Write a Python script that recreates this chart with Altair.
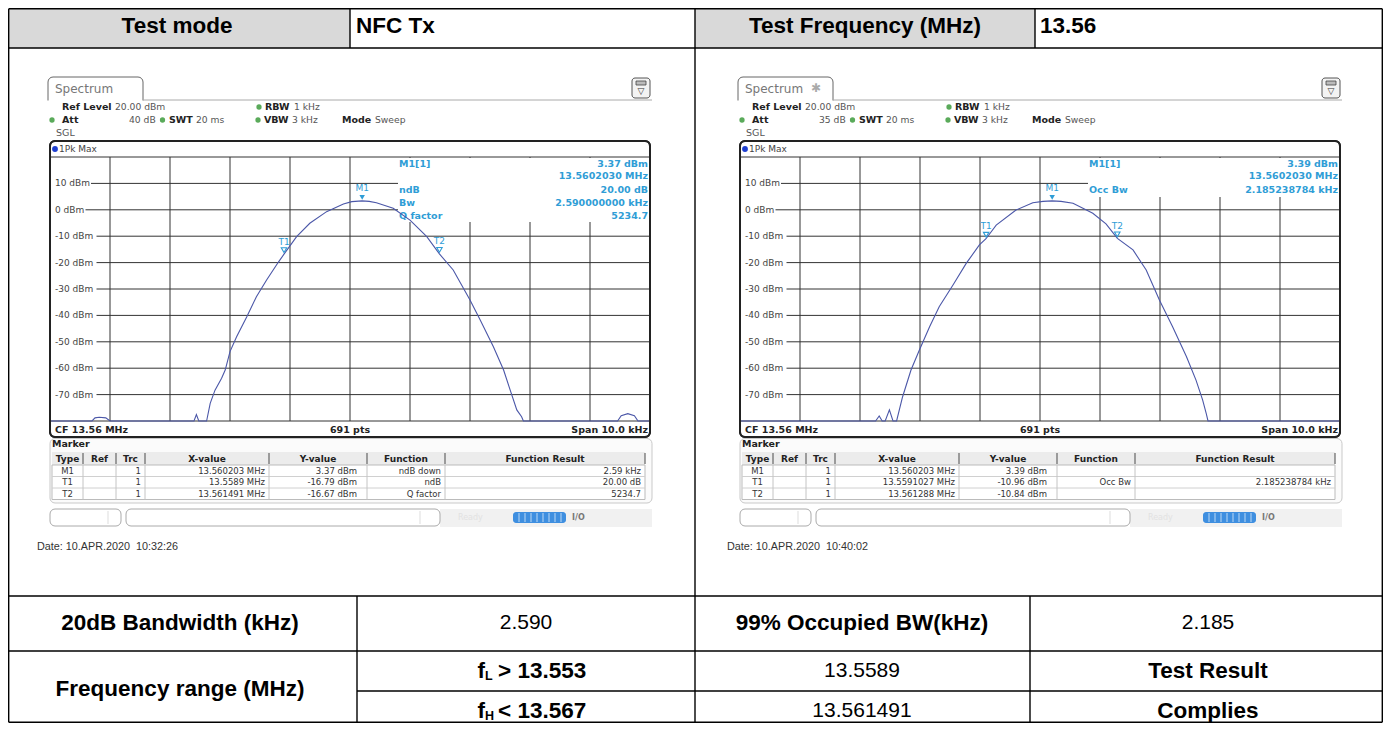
import altair as alt
import pandas as pd

W, H = 1375, 715
OFF = 8
UI = "DejaVu Sans"
TB = "Liberation Sans"
GRID = "#333333"
TRACE = "#4b57a8"
MK = "#2f9dd6"

# ---------------- data ----------------
header_texts = ["Test mode", "NFC Tx", "Test Frequency (MHz)", "13.56"]
result_labels = ["20dB Bandwidth (kHz)", "99% Occupied BW(kHz)", "Frequency range (MHz)", "Test Result"]
result_values = ["2.590", "2.185", "13.5589", "13.561491", "Complies"]
limit_parts = ["f", "L", "> 13.553", "f", "H", "< 13.567"]

freq_ticks_khz = [-5, -4, -3, -2, -1, 0, 1, 2, 3, 4, 5]
level_ticks_dbm = [20, 10, 0, -10, -20, -30, -40, -50, -60, -70, -80]

left_trace_khz = [-5.0, -4.3, -4.25, -4.18, -4.07, -4.0, -2.6, -2.56, -2.52, -2.39, -2.33, -2.25,
                  -2.14, -2.08, -2.0, -1.89, -1.72, -1.56, -1.39, -1.19, -1.1, -0.89, -0.67, -0.39,
                  -0.11, 0.03, 0.2, 0.32, 0.44, 0.72, 1.0, 1.28, 1.49, 1.72, 2.0, 2.17, 2.39, 2.56,
                  2.67, 2.78, 2.86, 2.89, 4.46, 4.52, 4.63, 4.74, 4.8, 5.0]
left_trace_dbm = [-80, -80, -78.8, -78.6, -78.8, -80, -80, -77.6, -80, -80, -73.3, -68.3,
                  -63.8, -60.7, -53.7, -48.1, -40.5, -32.9, -26.6, -19.7, -16.8, -10.2, -5.1, -0.7,
                  2.2, 3.1, 3.37, 3.2, 2.7, 0.6, -3.9, -10.2, -16.7, -22.8, -34.2, -41.7, -51.9, -60.7,
                  -68.3, -75.8, -78.4, -80, -80, -78.0, -77.2, -78.0, -80, -80]

right_trace_khz = [-5.0, -2.74, -2.68, -2.63, -2.58, -2.51, -2.45, -2.39, -2.29, -2.15, -2.01, -1.84,
                   -1.68, -1.45, -1.23, -1.01, -0.9, -0.73, -0.4, -0.12, 0.05, 0.2, 0.35, 0.55, 0.88,
                   1.1, 1.29, 1.55, 1.77, 1.99, 2.21, 2.44, 2.6, 2.71, 2.77, 2.8, 5.0]
right_trace_dbm = [-80, -80, -78.1, -80, -80, -75.8, -80, -80, -70.8, -60.7, -53.1, -44.3,
                   -36.7, -28.5, -20.3, -13.3, -10.96, -5.8, -0.1, 2.7, 3.2, 3.39, 3.2, 2.5, -1.3,
                   -5.3, -10.84, -15.2, -22.8, -34.2, -44.3, -55.6, -64.5, -72.0, -77.1, -80, -80]

marker_names = ["M1", "T1", "T2"]
left_marker_mhz = [13.560203, 13.5589, 13.561491]
left_marker_dbm = [3.37, -16.79, -16.67]
right_marker_mhz = [13.560203, 13.5591027, 13.561288]
right_marker_dbm = [3.39, -10.96, -10.84]

settings_keys = ["Ref Level", "RBW", "Att", "SWT", "VBW", "Mode"]
left_settings_vals = ["20.00 dBm", "1 kHz", "40 dB", "20 ms", "3 kHz", "Sweep"]
right_settings_vals = ["20.00 dBm", "1 kHz", "35 dB", "20 ms", "3 kHz", "Sweep"]

left_info_keys = ["M1[1]", "", "ndB", "Bw", "Q factor"]
left_info_vals = ["3.37 dBm", "13.5602030 MHz", "20.00 dB", "2.590000000 kHz", "5234.7"]
right_info_keys = ["M1[1]", "", "Occ Bw"]
right_info_vals = ["3.39 dBm", "13.5602030 MHz", "2.185238784 kHz"]

table_head = ["Type", "Ref", "Trc", "X-value", "Y-value", "Function", "Function Result"]
left_rows = [["M1", "1", "13.560203 MHz", "3.37 dBm", "ndB down", "2.59 kHz"],
             ["T1", "1", "13.5589 MHz", "-16.79 dBm", "ndB", "20.00 dB"],
             ["T2", "1", "13.561491 MHz", "-16.67 dBm", "Q factor", "5234.7"]]
right_rows = [["M1", "1", "13.560203 MHz", "3.39 dBm", "", ""],
              ["T1", "1", "13.5591027 MHz", "-10.96 dBm", "Occ Bw", "2.185238784 kHz"],
              ["T2", "1", "13.561288 MHz", "-10.84 dBm", "", ""]]
left_date = "Date: 10.APR.2020\u00a0 10:32:26"
right_date = "Date: 10.APR.2020\u00a0 10:40:02"

# ---------------- helpers (page coordinates) ----------------
XS = alt.Scale(domain=[0, W], range=[0, W], nice=False, zero=False)
YS = alt.Scale(domain=[0, H], range=[0, H], nice=False, zero=False)


def _xy():
    return dict(x=alt.X("x:Q", scale=XS, axis=None), y=alt.Y("y:Q", scale=YS, axis=None))


def ptext(pos, texts, size, weight="normal", color="#222", align="left", font=UI):
    df = pd.DataFrame({"x": [p[0] - OFF for p in pos], "y": [p[1] - OFF for p in pos], "t": list(texts)})
    return alt.Chart(df).mark_text(fontSize=size, fontWeight=weight, color=color, align=align,
                                   baseline="middle", font=font).encode(**_xy(), text="t:N")


def prect(boxes, **kw):
    df = pd.DataFrame(boxes, columns=["x", "y", "x2", "y2"]) - OFF
    return alt.Chart(df).mark_rect(**kw).encode(**_xy(), x2="x2:Q", y2="y2:Q")


def prule(lines, color="#000", width=1.0):
    df = pd.DataFrame(lines, columns=["x", "y", "x2", "y2"]) - OFF
    return alt.Chart(df).mark_rule(color=color, strokeWidth=width).encode(**_xy(), x2="x2:Q", y2="y2:Q")


def pdot(pos, color, size):
    df = pd.DataFrame({"x": [p[0] - OFF for p in pos], "y": [p[1] - OFF for p in pos]})
    return alt.Chart(df).mark_circle(color=color, size=size, opacity=1).encode(**_xy())


# ---------------- one analyzer screenshot ----------------
def panel(dx, star, settings_vals, info_keys, info_vals, box_bottom, tr_khz, tr_dbm,
          mk_mhz, mk_dbm, rows, date):
    L = []
    # tab + header strip
    L.append(prect([(48 + dx, 77, 143 + dx, 108)], fill="white", stroke="#666", strokeWidth=1, cornerRadius=5))
    L.append(prect([(46 + dx, 100.5, 145 + dx, 110)], fill="white"))
    L.append(prule([(143 + dx, 100, 652 + dx, 100)], color="#aaa", width=1))
    L.append(ptext([(55 + dx, 89)], ["Spectrum"], 12, color="#777"))
    if star:
        L.append(ptext([(121 + dx, 88)], ["\u2731"], 12, color="#aaa"))
    L.append(prect([(632 + dx, 78, 650 + dx, 98)], fill="#f3f3f3", stroke="#555", strokeWidth=1, cornerRadius=3))
    L.append(prect([(636 + dx, 81, 646 + dx, 85)], fill="#bbb", stroke="#444", strokeWidth=0.8))
    L.append(ptext([(641 + dx, 91)], ["\u25bd"], 9, color="#333", align="center"))
    # settings
    kpos = [(62, 107), (265, 107), (62, 120), (169, 120), (264, 120), (342, 120)]
    vpos = [(115, 107), (294, 107), (129, 120), (196, 120), (292, 120), (375, 120)]
    L.append(ptext([(x + dx, y) for x, y in kpos], settings_keys, 9.5, weight="bold", color="#222"))
    L.append(ptext([(x + dx, y) for x, y in vpos], settings_vals, 9.2, color="#555"))
    L.append(pdot([(p[0] + dx, p[1]) for p in [(259, 107), (52, 120), (162.5, 120), (258, 120)]], "#5aaa5a", 28))
    L.append(ptext([(56 + dx, 133)], ["SGL"], 9.5, color="#555"))
    # frame
    L.append(prect([(50 + dx, 141, 650 + dx, 437)], fill="white", stroke="#222", strokeWidth=2, cornerRadius=5))
    L.append(pdot([(55 + dx, 149)], "#1e3fd0", 34))
    L.append(ptext([(59 + dx, 149)], ["1Pk Max"], 9, color="#444"))

    # spectrum scales
    xs = alt.Scale(domain=[-5, 5], range=[50 + dx - OFF, 650 + dx - OFF], nice=False, zero=False)
    ys = alt.Scale(domain=[-80, 20], range=[421 - OFF, 157 - OFF], nice=False, zero=False)

    def X(f):
        return alt.X(f, scale=xs, axis=None)

    def Y(f):
        return alt.Y(f, scale=ys, axis=None)

    L.append(alt.Chart(pd.DataFrame({"f": freq_ticks_khz})).mark_rule(color=GRID, strokeWidth=1)
             .encode(x=X("f:Q"), y=alt.value(157 - OFF), y2=alt.value(421 - OFF)))
    lab = "(datum.db < 20 && datum.db > -80) ? datum.db + ' dBm' : ''"
    lev = alt.Chart(pd.DataFrame({"db": level_ticks_dbm})).transform_calculate(label=lab)
    L.append(lev.transform_calculate(
        f0="datum.label == '' ? -5 : -5 + (length(datum.label) * 5.5 + 8) / 60", f1="5")
        .mark_rule(color=GRID, strokeWidth=1).encode(x=X("f0:Q"), x2="f1:Q", y=Y("db:Q")))
    L.append(lev.transform_filter("datum.label != ''").mark_text(
        align="left", baseline="middle", fontSize=9, font=UI, color="#444")
        .encode(x=alt.value(55 + dx - OFF), y=Y("db:Q"), text="label:N"))
    # info box
    L.append(prect([(398 + dx, 158, 649 + dx, box_bottom)], fill="white"))
    iy = [164, 175.5, 190, 202.5, 215.5][:len(info_keys)]
    L.append(ptext([(399 + dx, y) for y in iy], info_keys, 9.5, weight="bold", color=MK))
    L.append(ptext([(648 + dx, y) for y in iy], info_vals, 9.5, weight="bold", color=MK, align="right"))
    # trace
    L.append(alt.Chart(pd.DataFrame({"f": tr_khz, "db": tr_dbm})).mark_line(color=TRACE, strokeWidth=1.1)
             .encode(x=X("f:Q"), y=Y("db:Q")))
    # markers
    mk = alt.Chart(pd.DataFrame({"name": marker_names, "mhz": mk_mhz, "dbm": mk_dbm})).transform_calculate(
        f="(datum.mhz - 13.56) * 1000")
    L.append(mk.transform_filter("datum.name == 'M1'").mark_point(
        shape="triangle-down", filled=True, size=30, color=MK, opacity=1, yOffset=-3.5)
        .encode(x=X("f:Q"), y=Y("dbm:Q")))
    L.append(mk.transform_filter("datum.name != 'M1'").mark_point(
        shape="triangle-down", filled=False, size=30, color=MK, strokeWidth=1.1, opacity=1, yOffset=-4)
        .encode(x=X("f:Q"), y=Y("dbm:Q")))
    L.append(mk.mark_text(fontSize=9, font=UI, color=MK, dy=-12.5, baseline="middle")
             .encode(x=X("f:Q"), y=Y("dbm:Q"), text="name:N"))
    # bottom bar of frame
    L.append(ptext([(55 + dx, 429.5)], ["CF 13.56 MHz"], 9.5, weight="bold", color="#222"))
    L.append(ptext([(350 + dx, 429.5)], ["691 pts"], 9.5, weight="bold", color="#222", align="center"))
    L.append(ptext([(648 + dx, 429.5)], ["Span 10.0 kHz"], 9.5, weight="bold", color="#222", align="right"))
    L.append(prect([(50 + dx, 141, 650 + dx, 437)], fillOpacity=0, stroke="#222", strokeWidth=2, cornerRadius=5))

    # marker table
    L.append(prect([(50 + dx, 438.5, 652 + dx, 503)], fill="#fbfbfb", stroke="#c9c9c9", strokeWidth=1, cornerRadius=5))
    L.append(ptext([(52 + dx, 444)], ["Marker"], 9.5, weight="bold", color="#222"))
    edges = [52, 83, 116, 145, 269, 367, 445, 645]
    L.append(prect([(52 + dx, 452, 645 + dx, 465)], fill="#ececec"))
    L.append(prect([(52 + dx, 465, 645 + dx, 499.5)], fill="white", stroke="#bbb", strokeWidth=1))
    L.append(prule([(52 + dx, y, 645 + dx, y) for y in [476.5, 488]], color="#d0d0d0", width=1))
    L.append(prule([(e + dx, 465, e + dx, 499.5) for e in edges[1:-1]], color="#c4c4c4", width=1))
    L.append(prule([(e + dx, 453, e + dx, 464) for e in edges[1:]], color="#666", width=1.2))
    cx = [(edges[i] + edges[i + 1]) / 2 for i in range(7)]
    L.append(ptext([(c + dx, 458.5) for c in cx], table_head, 9, weight="bold", color="#222", align="center"))
    ry = [470.8, 482.3, 493.8]
    L.append(ptext([(cx[0] + dx, y) for y in ry], [r[0] for r in rows], 8.5, color="#333", align="center"))
    rx = [141, 265, 357, 441, 641]
    for j, x in enumerate(rx):
        L.append(ptext([(x + dx, y) for y in ry], [r[j + 1] for r in rows], 8.5, color="#333", align="right"))
    # status bar
    L.append(prect([(440 + dx, 509, 652 + dx, 527)], fill="#f1f1f1"))
    L.append(prect([(50 + dx, 509, 121 + dx, 526)], fill="white", stroke="#aaa", strokeWidth=1, cornerRadius=5))
    L.append(prect([(126 + dx, 509, 440 + dx, 526)], fill="white", stroke="#aaa", strokeWidth=1, cornerRadius=5))
    L.append(prule([(108 + dx, 511, 108 + dx, 524), (420 + dx, 511, 420 + dx, 524)], color="#ddd", width=1))
    L.append(ptext([(458 + dx, 517.5)], ["Ready"], 8, color="#e2e2e2"))
    L.append(prect([(513 + dx, 512, 566 + dx, 523)], fill="#3f8fe0", cornerRadius=3))
    L.append(prule([(x + dx, 513, x + dx, 522) for x in range(519, 562, 6)], color="#bcd9f5", width=1))
    L.append(ptext([(572 + dx, 517.5)], ["I/O"], 8, weight="bold", color="#777"))
    # date
    L.append(ptext([(37 + dx, 547)], [date], 10.8, color="#333", font=TB))
    return L


layers = []
# outer table
LT, TT, RT, BT = 8.7, 8.7, 1382.3, 722.3
layers.append(prect([(LT, TT, RT, BT)], fill="white"))
layers.append(prect([(LT, TT, 350, 48), (695, TT, 1035, 48)], fill="#d9d9d9"))
layers.append(prule([(LT, TT, RT, TT), (LT, BT, RT, BT), (LT, TT, LT, BT), (RT, TT, RT, BT),
                     (LT, 48, RT, 48), (350, TT, 350, 48), (695, TT, 695, BT), (1035, TT, 1035, 48),
                     (LT, 596, RT, 596), (LT, 651, RT, 651), (357, 691, RT, 691),
                     (357, 596, 357, BT), (1030, 596, 1030, BT)], color="#000", width=1.4))
FB = 22.5   # bold labels
FV = 21     # plain values
layers.append(ptext([(177, 26), (865, 26)], [header_texts[0], header_texts[2]], FB, weight="bold",
                    color="#000", align="center", font=TB))
layers.append(ptext([(356, 26), (1040, 26)], [header_texts[1], header_texts[3]], FB, weight="bold",
                    color="#000", font=TB))
layers.append(ptext([(180, 623), (862, 623), (180, 689), (1208, 671)], result_labels, FB, weight="bold",
                    color="#000", align="center", font=TB))
layers.append(ptext([(526, 623), (1208, 623), (862, 671), (862, 711)], result_values[:4], FV,
                    color="#000", align="center", font=TB))
layers.append(ptext([(1208, 711)], result_values[4:], FB, weight="bold", color="#000", align="center", font=TB))
layers.append(ptext([(485, 671), (485, 711)], [limit_parts[0], limit_parts[3]], FB, weight="bold",
                    color="#000", align="right", font=TB))
layers.append(ptext([(485, 676), (485, 716)], [limit_parts[1], limit_parts[4]], 12.5, weight="bold",
                    color="#000", font=TB))
layers.append(ptext([(498, 671), (498, 711)], [limit_parts[2], limit_parts[5]], FB, weight="bold",
                    color="#000", font=TB))

layers += panel(0, False, left_settings_vals, left_info_keys, left_info_vals, 222,
                left_trace_khz, left_trace_dbm, left_marker_mhz, left_marker_dbm, left_rows, left_date)
layers += panel(690, True, right_settings_vals, right_info_keys, right_info_vals, 197,
                right_trace_khz, right_trace_dbm, right_marker_mhz, right_marker_dbm, right_rows, right_date)

chart = (alt.layer(*layers)
         .resolve_scale(x="independent", y="independent")
         .properties(width=W, height=H, padding=0, background="white",
                     autosize=alt.AutoSizeParams(type="none"))
         .configure_view(stroke=None))

chart.save("out.html", embed_options={"renderer": "svg", "actions": False})
